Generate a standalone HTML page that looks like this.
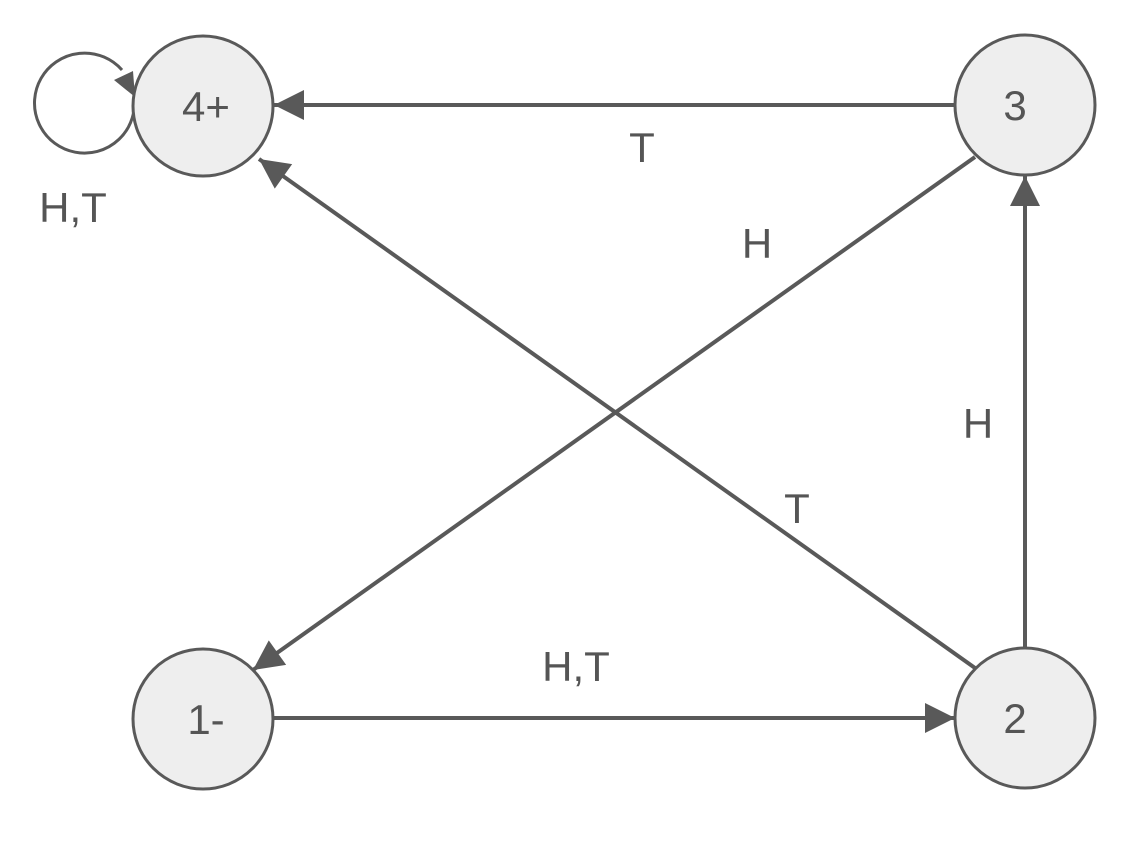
<!DOCTYPE html>
<html><head><style>body{margin:0;background:#fff}</style></head><body>
<svg width="1147" height="859" xmlns="http://www.w3.org/2000/svg" style="display:block">
<defs>
<marker id="b" viewBox="0 0 10 10" refX="10" refY="5" markerWidth="34" markerHeight="30" orient="auto" markerUnits="userSpaceOnUse"><path d="M0,0 L10,5 L0,10 z" fill="#595959"/></marker></defs>
<g stroke="#595959" stroke-width="4" fill="none">
<path d="M134,96 A50,50 0 1 1 122,70" stroke-width="3"/>
<line x1="955" y1="105" x2="274" y2="105" marker-end="url(#b)"/>
<line x1="975" y1="668" x2="259" y2="159" marker-end="url(#b)"/>
<line x1="975" y1="157" x2="253" y2="670" marker-end="url(#b)"/>
<line x1="1025" y1="648" x2="1025" y2="176" marker-end="url(#b)"/>
<line x1="273" y1="718" x2="955" y2="718" marker-end="url(#b)"/>
</g>
<path d="M114,80 L135,97 L133,71 z" fill="#595959"/>
<g stroke="#595959" stroke-width="3" fill="#eeeeee">
<circle cx="203" cy="106" r="70"/><circle cx="1025" cy="105" r="70"/>
<circle cx="203" cy="719" r="70"/><circle cx="1025" cy="718" r="70"/>
</g>
<g font-family="Liberation Sans, sans-serif" font-size="42" fill="#555" text-anchor="middle">
<text x="206" y="121">4+</text><text x="1015" y="120">3</text>
<text x="206" y="734">1-</text><text x="1015" y="733">2</text>
<text x="73" y="222">H,T</text><text x="642" y="162">T</text>
<text x="757" y="258">H</text><text x="978" y="438">H</text>
<text x="797" y="523">T</text><text x="576" y="681">H,T</text>
</g>
</svg>
</body></html>
